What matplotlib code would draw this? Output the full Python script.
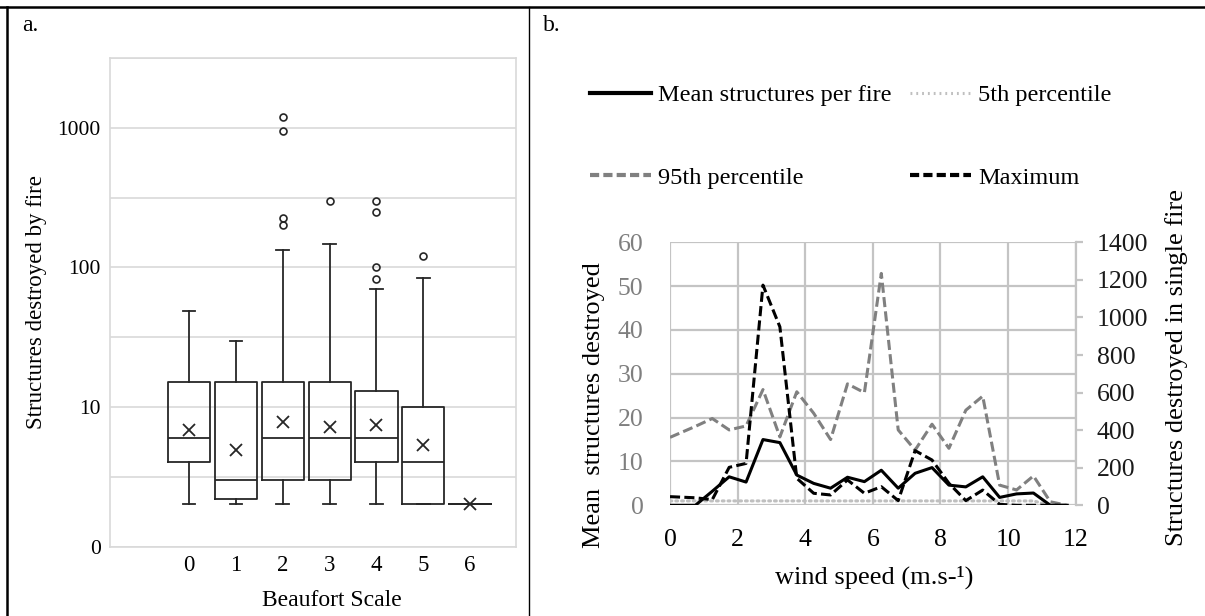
import matplotlib
matplotlib.use('Agg')
import matplotlib.pyplot as plt
from matplotlib.lines import Line2D

plt.rcParams['font.family'] = ['Liberation Serif', 'DejaVu Serif']

W, H = 1205, 616

# ---- panel a: box plots by Beaufort scale ----
beaufort = [0, 1, 2, 3, 4, 5, 6]
whis_lo = [2, 2, 2, 2, 2, 2, 2]
q1 = [4, 2.2, 3, 3, 4, 2, 2]
med = [6, 3, 6, 6, 6, 4, 2]
q3 = [15, 15, 15, 15, 13, 10, 2]
whis_hi = [49, 29.5, 133, 148, 70, 84, 2]
means = [6.8, 4.9, 7.8, 7.2, 7.4, 5.35, 2]
fliers = [[], [], [1200, 950, 225, 200], [300], [300, 250, 100, 82], [120], []]

# ---- panel b: wind speed lines ----
wind = [0, 0.75, 1.25, 1.75, 2.25, 2.75, 3.25, 3.75, 4.25, 4.75, 5.25, 5.75,
        6.25, 6.75, 7.25, 7.75, 8.25, 8.75, 9.25, 9.75, 10.25, 10.75, 11.25, 11.75]
mean_struct = [0, 0, 3.2, 6.5, 5.3, 15.0, 14.3, 6.9, 5.0, 3.9, 6.4, 5.4,
               8.0, 3.9, 7.3, 8.6, 4.6, 4.2, 6.5, 1.8, 2.6, 2.8, 0, 0]
p95 = [15.5, 18.0, 19.8, 17.2, 18.1, 26.4, 15.6, 25.9, 21.0, 15.0, 27.7, 25.7,
       52.9, 17.2, 12.6, 18.5, 13.0, 21.7, 24.9, 4.6, 3.5, 6.7, 0.8, 0]
p5 = [1, 1, 1, 1, 1, 1, 1, 1, 1, 1, 1, 1,
      1, 1, 1, 1, 1, 1, 1, 1, 1, 1, 0, 0]
maximum = [46, 40, 30, 202, 223, 1172, 950, 144, 64, 55, 135, 64,
           99, 25, 291, 241, 117, 25, 81, 5, 0, 0, 0, 0]


def px_axes(l, t, r, b):
    return [l / W, 1 - b / H, (r - l) / W, (b - t) / H]


fig = plt.figure(figsize=(W / 100, H / 100), dpi=100)

# table borders
fig.add_artist(Line2D([0, 1], [1 - 7 / H, 1 - 7 / H], color='black', lw=1.8))
fig.add_artist(Line2D([7 / W, 7 / W], [0, 1 - 7 / H], color='black', lw=1.8))
fig.add_artist(Line2D([529 / W, 529 / W], [0, 1 - 7 / H], color='black', lw=1.0))
fig.text(22 / W, 1 - 31 / H, 'a.', fontsize=17)
fig.text(543 / W, 1 - 31 / H, 'b.', fontsize=17)

# ---------------- panel a ----------------
ax = fig.add_axes(px_axes(110.5, 58, 516, 546.5))
stats = []
for i in range(len(beaufort)):
    stats.append(dict(whislo=whis_lo[i], q1=q1[i], med=med[i], q3=q3[i],
                      whishi=whis_hi[i], mean=means[i], fliers=fliers[i]))
lc = '#262626'
ax.bxp(stats, positions=beaufort, widths=0.9, showmeans=True, capwidths=0.27,
       boxprops=dict(color=lc, lw=1.3), whiskerprops=dict(color=lc, lw=1.3),
       capprops=dict(color=lc, lw=1.3), medianprops=dict(color=lc, lw=1.3),
       meanprops=dict(marker='x', markeredgecolor=lc, markersize=9, markeredgewidth=1.3),
       flierprops=dict(marker='o', markerfacecolor='none', markeredgecolor=lc,
                       markersize=5, markeredgewidth=1.2),
       manage_ticks=False)
ax.set_yscale('log')
ax.set_ylim(1, 10 ** 3.5)
ax.set_xlim(-1.68, 6.98)
ax.set_yticks([1, 10, 100, 1000], ['0', '10', '100', '1000'], fontsize=15.5)
ax.set_yticks([10 ** (k / 2) for k in range(8)], minor=True)
ax.yaxis.set_minor_formatter(plt.NullFormatter())
ax.set_xticks(beaufort, [str(b) for b in beaufort], fontsize=16.5)
ax.grid(True, which='both', axis='y', color='#d9d9d9', lw=1.2)
ax.set_axisbelow(True)
ax.tick_params(which='both', length=0)
ax.tick_params(axis='y', pad=7)
ax.tick_params(axis='x', pad=6)
for s in ax.spines.values():
    s.set_color('#d9d9d9')
    s.set_linewidth(1.2)
fig.text(37 / W, 1 - 302 / H, 'Structures destroyed by fire', rotation=90,
         ha='center', va='center', fontsize=16.5)
fig.text(331.6 / W, 1 - 601 / H, 'Beaufort Scale', ha='center', va='center', fontsize=17)

# ---------------- panel b ----------------
ax2 = fig.add_axes(px_axes(670, 242.3, 1075.7, 505.3))
axr = ax2.twinx()
grid_c = '#c4c4c4'
ax2.plot(wind, p95, color='#808080', lw=2.2, linestyle=(0, (3.3, 1.4)))
ax2.plot(wind, p5, color='#bfbfbf', lw=2.2, linestyle=(0, (0.6, 1.3)),
         dash_capstyle='round')
ax2.plot(wind, mean_struct, color='black', lw=2.2)
axr.plot(wind, maximum, color='black', lw=2.2, linestyle=(0, (3.3, 1.4)))

ax2.set_xlim(0, 12)
ax2.set_ylim(0, 60)
axr.set_ylim(0, 1400)
ax2.set_xticks(range(0, 13, 2))
ax2.set_yticks(range(0, 61, 10))
axr.set_yticks(range(0, 1401, 200))
ax2.grid(True, color=grid_c, lw=1.6)
ax2.set_axisbelow(True)
ax2.tick_params(axis='y', length=0, pad=19, labelsize=18.5, labelcolor='#7f7f7f')
ax2.tick_params(axis='x', length=0, pad=17, labelsize=18.5)
axr.tick_params(axis='y', length=5, width=1.6, color=grid_c, pad=10,
                labelsize=18.5, labelcolor='#1a1a1a')
for a in (ax2, axr):
    for s in a.spines.values():
        s.set_visible(False)
axr.spines['right'].set_visible(True)
axr.spines['right'].set_color(grid_c)
axr.spines['right'].set_linewidth(1.6)

fig.text(594 / W, 1 - 405 / H, 'Mean  structures destroyed', rotation=90,
         ha='center', va='center', fontsize=19)
fig.text(1177 / W, 1 - 368 / H, 'Structures destroyed in single fire', rotation=90,
         ha='center', va='center', fontsize=19)
fig.text(874 / W, 1 - 577 / H, 'wind speed (m.s-\u00b9)', ha='center', va='center',
         fontsize=19)

handles = [
    Line2D([], [], color='black', lw=3),
    Line2D([], [], color='#808080', lw=3, linestyle=(0, (2.2, 1.0))),
    Line2D([], [], color='#bfbfbf', lw=2.2, linestyle=(0, (0.6, 1.3))),
    Line2D([], [], color='black', lw=3, linestyle=(0, (2.2, 1.0))),
]
labels = ['Mean structures per fire', '95th percentile', '5th percentile', 'Maximum']
fig.legend(handles, labels, ncol=2, frameon=False, loc='upper left',
           bbox_to_anchor=(590 / W, 1 - 84 / H), fontsize=17.5, handlelength=2.5,
           handletextpad=0.3, columnspacing=0.75, labelspacing=2.5, borderpad=0,
           borderaxespad=0)

fig.savefig('out.png', dpi=100)
